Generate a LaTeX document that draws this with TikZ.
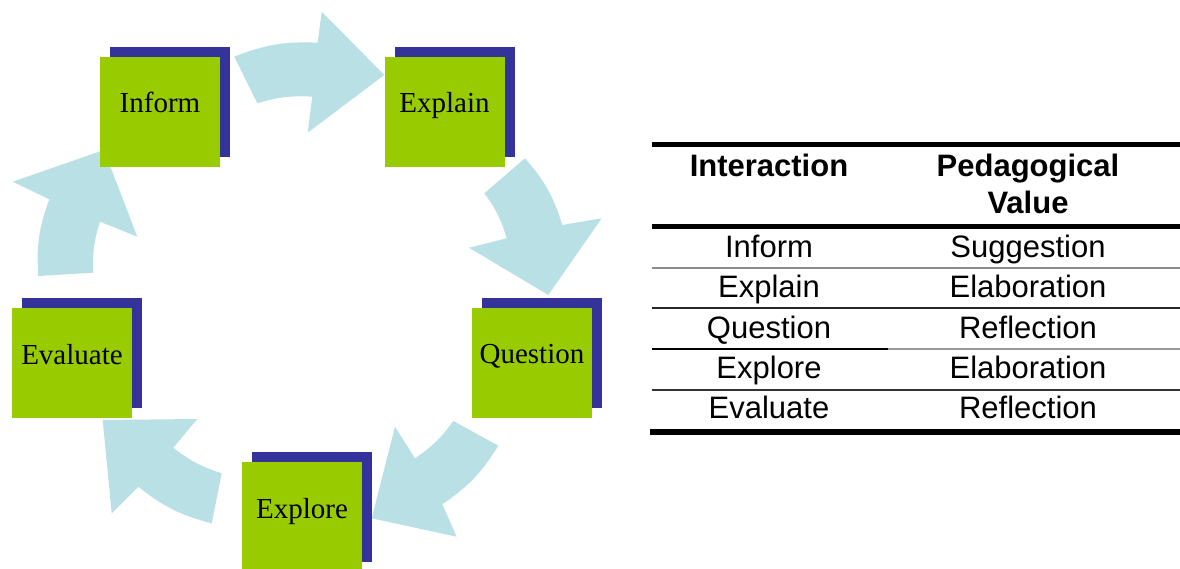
\documentclass[tikz,border=0pt]{standalone}
\usepackage{fontspec}
\setmainfont{Liberation Sans}
\newfontfamily\boxfont{Liberation Serif}
\usetikzlibrary{shadows}
\definecolor{boxgreen}{RGB}{153,204,0}
\definecolor{boxblue}{RGB}{51,51,153}
\definecolor{arrowblue}{RGB}{185,224,228}
\tikzset{
  stagebox/.style={fill=boxgreen, minimum width=120pt, minimum height=110pt,
    inner sep=0pt, text height=2pt, text depth=0pt,
    font=\boxfont\fontsize{29}{34}\selectfont,
    general shadow={fill=boxblue, shadow xshift=10pt, shadow yshift=10pt}},
  cyclearrow/.style={fill=arrowblue, draw=none},
  celltext/.style={inner sep=0pt, anchor=base, font=\fontsize{31}{37}\selectfont},
  headtext/.style={inner sep=0pt, anchor=north, align=center,
    font=\bfseries\fontsize{31}{37}\selectfont},
  thickrule/.style={line width=5pt},
  thinrule/.style={line width=2pt}
}
\begin{document}
\begin{tikzpicture}[x=1pt, y=-1pt]
\useasboundingbox (0,0) rectangle (1180,569);
% cycle arrows
\fill[cyclearrow] (234.3,56.7) to[bend left=12] (317.7,42.7) -- (321.7,11.7) -- (384.3,75)
  -- (307.7,132.7) -- (312.3,96.7) to[bend right=10] (257.3,103.3) -- cycle;
\fill[cyclearrow] (525,158.3) to[bend left=12] (562.3,225) -- (601.7,218.3) -- (548.3,295)
  -- (469,247.7) -- (506.7,238.3) to[bend right=10] (484.3,193.3) -- cycle;
\fill[cyclearrow] (498.3,445.7) to[bend left=12] (442.3,504.3) -- (456.7,536.7) -- (371.7,518.3)
  -- (395,426.7) -- (415,458.3) to[bend right=10] (453.3,421) -- cycle;
\fill[cyclearrow] (211.7,523.3) to[bend left=12] (138.3,486.7) -- (111.7,513.3) -- (102.7,420)
  -- (197.3,419) -- (173.3,447.7) to[bend right=10] (221.7,473.3) -- cycle;
\fill[cyclearrow] (38.3,276) to[bend left=12] (49.3,199.3) -- (12.7,181.7) -- (104,150)
  -- (137.3,236.7) -- (100,221.7) to[bend right=10] (93.3,272.7) -- cycle;
% stage boxes
\node[stagebox] (inform)   at (160,112)   {Inform};
\node[stagebox] (explain)  at (444.5,112) {Explain};
\node[stagebox] (question) at (532,362.5) {Question};
\node[stagebox] (explore)  at (302,517)   {Explore};
\node[stagebox] (evaluate) at (72,363)    {Evaluate};
% table rules
\draw[thickrule] (652,145) -- (1180,145);
\draw[thickrule] (652,226.5) -- (1180,226.5);
\draw[thinrule, black!45] (652,268) -- (1180,268);
\draw[thinrule, black!85] (652,308) -- (1180,308);
\draw[thinrule, black] (652,349) -- (888,349);
\draw[thinrule, black!40] (888,349) -- (1180,349);
\draw[thinrule, black!80] (652,390) -- (1180,390);
\draw[line width=6pt] (650,431.5) -- (1180,431.5);
% table text
\node[headtext] (h1) at (769,154) {Interaction};
\node[headtext] (h2) at (1028,154) {Pedagogical\\Value};
\node[celltext] (r1a) at (769,258) {Inform};
\node[celltext] (r1b) at (1028,258) {Suggestion};
\node[celltext] (r2a) at (769,298) {Explain};
\node[celltext] (r2b) at (1028,298) {Elaboration};
\node[celltext] (r3a) at (769,338) {Question};
\node[celltext] (r3b) at (1028,338) {Reflection};
\node[celltext] (r4a) at (769,378) {Explore};
\node[celltext] (r4b) at (1028,378) {Elaboration};
\node[celltext] (r5a) at (769,418) {Evaluate};
\node[celltext] (r5b) at (1028,418) {Reflection};
\end{tikzpicture}
\end{document}
